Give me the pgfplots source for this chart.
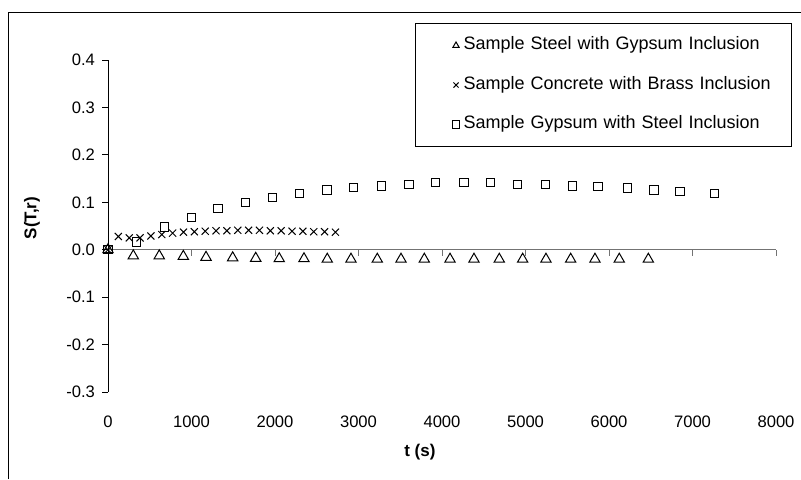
\documentclass[border=0pt]{standalone}
\usepackage{fontspec}
\setmainfont{Liberation Sans}
\usepackage{pgfplots}
\pgfplotsset{compat=1.18}

\pgfplotstableread{
t      s
0      0
303   -0.013
614   -0.013
902   -0.014
1174  -0.016
1493  -0.017
1769  -0.018
2051  -0.019
2347  -0.019
2626  -0.020
2910  -0.020
3225  -0.020
3509  -0.020
3788  -0.020
4096  -0.020
4383  -0.020
4686  -0.020
4966  -0.020
5245  -0.020
5541  -0.020
5832  -0.020
6123  -0.020
6471  -0.020
}\steelgyp

\pgfplotstableread{
t      s
0      0
124    0.028
254    0.025
384    0.025
514    0.029
644    0.032
774    0.035
904    0.037
1034   0.038
1164   0.039
1294   0.040
1424   0.040
1554   0.041
1684   0.041
1814   0.041
1944   0.040
2074   0.040
2204   0.039
2334   0.039
2464   0.038
2594   0.038
2724   0.037
}\concbrass

\pgfplotstableread{
t      s
0      0
343    0.016
679    0.048
998    0.068
1317   0.087
1644   0.100
1968   0.110
2291   0.119
2623   0.126
2938   0.131
3277   0.134
3605   0.138
3924   0.142
4263   0.142
4583   0.142
4906   0.138
5237   0.138
5560   0.134
5870   0.133
6224   0.130
6539   0.126
6850   0.123
7261   0.119
}\gypsteel

\pgfplotsset{
  lgd/.style={legend image code/.code={
    \path (0pt,0pt) (23.5pt,0pt);
    \draw[##1,mark size=1.8pt] plot coordinates {(20pt,0pt)};}},
}

\begin{document}
\begin{tikzpicture}
\path[use as bounding box] (0pt,0pt) rectangle (400.5pt,-239.5pt);
\draw[line width=0.5pt] (4pt,-239.5pt) -- (4pt,-6pt) -- (400.5pt,-6pt);
\begin{axis}[
  at={(54pt,-196pt)}, anchor=south west,
  scale only axis, width=334pt, height=166pt,
  xmin=0, xmax=8000, ymin=-0.3, ymax=0.4,
  axis x line=middle, axis y line=left,
  axis line style={-, line width=0.5pt},
  x axis line style={draw=black!55},
  xtick={0,1000,...,8000}, ytick={-0.3,-0.2,...,0.4},
  hide obscured x ticks=false, hide obscured y ticks=false,
  xtick align=outside, ytick align=outside,
  major tick length=3pt,
  tick style={line width=0.5pt, black},
  x tick style={black!55},
  tick label style={font=\fontsize{8.3}{10}\selectfont},
  /pgf/number format/assume math mode=true,
  xticklabel style={/pgf/number format/set thousands separator={}, anchor=north, yshift=-76.5pt},
  yticklabel style={/pgf/number format/fixed, /pgf/number format/fixed zerofill, /pgf/number format/precision=1},
  xlabel={\textbf{t (s)}},
  ylabel={\textbf{S(T,r)}},
  label style={font=\fontsize{8.5}{10}\selectfont},
  xlabel style={at={(axis description cs:0.467,-0.1807)}, anchor=center},
  ylabel style={at={(axis description cs:-0.1138,0.524)}, anchor=center},
  legend style={at={(axis description cs:0.4596,1.1114)}, anchor=north west,
    draw=black, line width=0.5pt, inner xsep=0pt, inner ysep=7.1pt, row sep=11.95pt,
    font=\fontsize{9}{10}\selectfont,
    nodes={inner xsep=0pt, inner ysep=0pt, text height=6pt, text depth=1.8pt, text width=164pt, align=left}},
  legend cell align=left,
]
\addplot[only marks, mark=triangle, mark size=3pt, black, line width=0.5pt, lgd] table[x=t,y=s] {\steelgyp};
\addlegendentry{Sample Steel with Gypsum Inclusion}
\addplot[only marks, mark=x, mark size=2.5pt, black, line width=0.5pt, lgd] table[x=t,y=s] {\concbrass};
\addlegendentry{Sample Concrete with Brass Inclusion}
\addplot[only marks, mark=square, mark size=2.1pt, black, line width=0.5pt, lgd] table[x=t,y=s] {\gypsteel};
\addlegendentry{Sample Gypsum with Steel Inclusion}
\end{axis}
\end{tikzpicture}
\end{document}
